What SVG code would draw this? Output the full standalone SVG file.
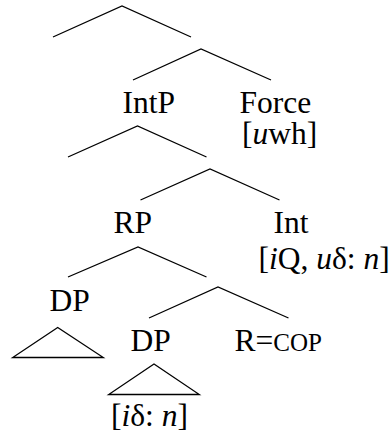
<svg xmlns="http://www.w3.org/2000/svg" width="391" height="435" viewBox="0 0 391 435" font-family="'Liberation Serif', 'Times New Roman', serif">
<style>
.e{stroke:#000;stroke-width:1.3;fill:none;stroke-linecap:butt}
.t{font-family:'Liberation Serif','Times New Roman',serif;font-size:31.5px;fill:#000}
.sc{font-size:25px}
</style>
<rect width="391" height="435" fill="#fff"/>
<g id="connectors">
<polyline class="e" points="53,37 122,6 191,37"/>
<polyline class="e" points="133,80 201,49 271,80"/>
<polyline class="e" points="68,157 137.5,126 206.5,157"/>
<polyline class="e" points="140.5,200 210,169 279.5,200"/>
<polyline class="e" points="68,277 138,247 206.5,277"/>
<polyline class="e" points="149,318 218,287 288.5,318"/>
</g>
<g id="n-intp"><text class="t" x="122.5" y="112.5">IntP</text></g>
<g id="n-force"><text class="t" x="239.5" y="112.5">Force</text><text class="t" x="242" y="144">[<tspan font-style="italic">u</tspan>wh]</text></g>
<g id="n-rp"><text class="t" x="113.5" y="233">RP</text></g>
<g id="n-int"><text class="t" x="273.5" y="233">Int</text><text class="t" x="258.5" y="269">[<tspan font-style="italic">i</tspan>Q, <tspan font-style="italic">u</tspan>δ: <tspan font-style="italic">n</tspan>]</text></g>
<g id="n-dp1"><text class="t" x="49.5" y="311">DP</text><polygon class="e" points="57.7,327.5 12.7,357.5 103.3,357.5"/></g>
<g id="n-dp2"><text class="t" x="130.5" y="351">DP</text><polygon class="e" points="154,364 108.7,394.5 199.3,394.5"/><text class="t" x="111" y="426">[<tspan font-style="italic">i</tspan>δ: <tspan font-style="italic">n</tspan>]</text></g>
<g id="n-r"><text class="t" x="234.5" y="351">R=<tspan class="sc">COP</tspan></text></g>
</svg>
